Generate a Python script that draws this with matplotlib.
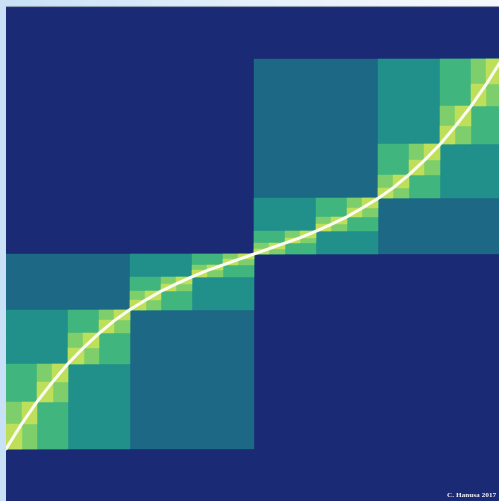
import numpy as np
import matplotlib
matplotlib.use("Agg")
import matplotlib.pyplot as plt
from matplotlib.patches import Rectangle


# curve values read at the dyadic points x = k/32, k = 0..32
X_KNOTS = [k / 32 for k in range(33)]
Y_KNOTS = [0.107, 0.157, 0.202, 0.242, 0.279, 0.311, 0.340, 0.366,
           0.388, 0.407, 0.425, 0.440, 0.454, 0.467, 0.478, 0.489,
           0.500,
           0.511, 0.522, 0.533, 0.546, 0.560, 0.575, 0.593, 0.612,
           0.634, 0.660, 0.689, 0.721, 0.758, 0.798, 0.843, 0.893]

# one colour per subdivision level (halves, quarters, ... 32nds)
LEVEL_COLORS = ["#1c6885", "#22908a", "#41b57e", "#7ecf6b", "#bedf5a"]
PANEL_COLOR = "#1b2a74"
CURVE_COLOR = "#fbfbf0"
CREDIT = "C. Hanusa 2017"

W, H, DPI = 499, 502, 100

fig = plt.figure(figsize=(W / DPI, H / DPI), dpi=DPI)

# light blue -> white backdrop behind the panel
bg = fig.add_axes([0, 0, 1, 1], zorder=0)
grad = np.linspace(0, 1, 256)[None, :]
bg_cmap = matplotlib.colors.LinearSegmentedColormap.from_list(
    "bg", ["#c8e1f6", "#e4f0fb", "#f7fafd"])
bg.imshow(grad, cmap=bg_cmap, aspect="auto", extent=[0, 1, 0, 1])
bg.set_axis_off()

# panel runs from px 7 at the top to just past the bottom edge
ax = fig.add_axes([6 / W, -1 / H, 496 / W, 496 / H], zorder=1)
ax.set_facecolor(PANEL_COLOR)
ax.set_xlim(0, 1)
ax.set_ylim(0, 1)

n = len(X_KNOTS) - 1
step = n // 2
level = 0
while step >= 1:
    col = LEVEL_COLORS[level]
    for i in range(0, n, step):
        x0, x1 = X_KNOTS[i], X_KNOTS[i + step]
        y0, y1 = Y_KNOTS[i], Y_KNOTS[i + step]
        ax.add_patch(Rectangle((x0, y0), x1 - x0, y1 - y0,
                               facecolor=col, edgecolor=col, linewidth=0.3))
    step //= 2
    level += 1

ax.plot(X_KNOTS, Y_KNOTS, color=CURVE_COLOR, linewidth=2.2,
        solid_capstyle="round", zorder=5)

ax.set_xticks([])
ax.set_yticks([])
for side in ("left", "right", "bottom"):
    ax.spines[side].set_visible(False)
ax.spines["top"].set_color("#8d9cb2")
ax.spines["top"].set_linewidth(0.8)

fig.text(0.995, 0.008, CREDIT, ha="right", va="bottom", color="white",
         fontsize=5.2, fontweight="bold", family="Liberation Serif", zorder=3)

fig.savefig("out.png", dpi=DPI)
